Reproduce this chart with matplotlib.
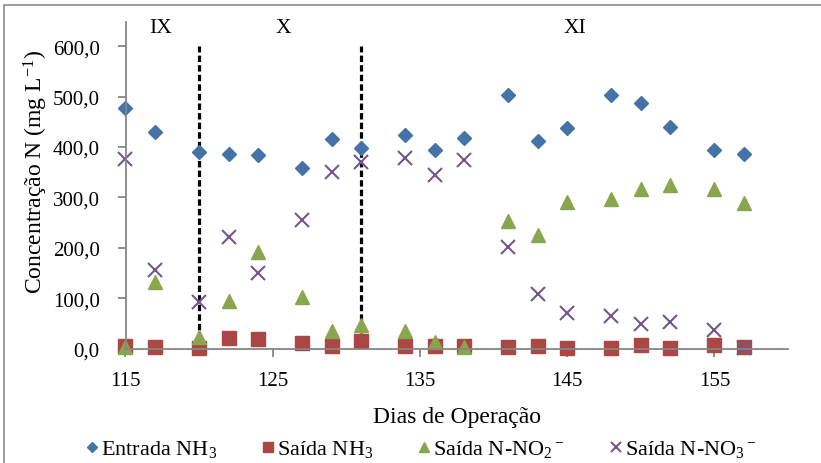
import matplotlib
matplotlib.use("Agg")
import matplotlib.pyplot as plt
from matplotlib.patches import Rectangle

plt.rcParams['font.family'] = ['Liberation Serif', 'DejaVu Serif']
plt.rcParams['mathtext.fontset'] = 'custom'
plt.rcParams['mathtext.rm'] = 'Liberation Serif'
plt.rcParams['mathtext.it'] = 'Liberation Serif:italic'
plt.rcParams['mathtext.bf'] = 'Liberation Serif:bold'

# Operation days and nitrogen concentrations (mg N/L)
dias = [115, 117, 120, 122, 124, 127, 129, 131, 134, 136, 138,
        141, 143, 145, 148, 150, 152, 155, 157]
entrada_nh3 = [477, 429, 389, 386, 384, 359, 415, 397, 423, 393, 418,
               503, 412, 437, 504, 488, 439, 394, 387]
saida_nh3 = [5, 3, 1, 20, 18, 11, 4, 14, 4, 5, 5,
             2, 5, 1, 0.5, 7, 0.5, 6, 2]
saida_no2 = [2, 132, 23, 94, 191, 103, 34, 46, 34, 13, 3,
             253, 225, 291, 296, 317, 324, 316, 288]
saida_no3 = [377, 156, 92, 222, 150, 256, 350, 370, 378, 345, 374,
             201, 108, 70, 64, 49, 52, 36, 1]

series_labels = ['Entrada NH$_3$', 'Saída NH$_3$',
                 'Saída N-NO$_2$$\\,^{-}$', 'Saída N-NO$_3$$\\,^{-}$']

# Phase boundaries and phase names
fase_limites = [120, 131]
fase_nomes = ['IX', 'X', 'XI']
fase_pos = [117.4, 125.7, 145.5]

x_ticks = [115, 125, 135, 145, 155]
y_ticks = [0, 100, 200, 300, 400, 500, 600]

W, H = 821, 464
fig = plt.figure(figsize=(W / 100, H / 100), dpi=100)
ax = fig.add_axes([125.5 / W, 1 - 349.5 / H, (788 - 125.5) / W, (349.5 - 23) / H])

ax.plot(dias, entrada_nh3, linestyle='none', marker='D', ms=7,
        color='#4572A7', label=series_labels[0], clip_on=False)
ax.plot(dias, saida_nh3, linestyle='none', marker='s', ms=10.5,
        color='#AA4643', label=series_labels[1], clip_on=False)
ax.plot(dias, saida_no2, linestyle='none', marker='^', ms=10.5,
        color='#89A54E', label=series_labels[2], clip_on=False)
ax.plot(dias, saida_no3, linestyle='none', marker='x', ms=9.5, mew=1.5,
        color='#71588F', label=series_labels[3], clip_on=False)

for xb in fase_limites:
    ax.plot([xb, xb], [0, 600], color='black', lw=2.3,
            linestyle=(0, (2, 1)), zorder=1.5)

for nome, xp in zip(fase_nomes, fase_pos):
    ax.text(xp, 638, nome, fontsize=15.5, ha='center', va='center')

ax.set_xlim(115, 160)
ax.set_ylim(0, 648)
ax.set_xticks(x_ticks)
ax.set_yticks(y_ticks)
ax.set_yticklabels([f'{v:.1f}'.replace('.', ',') for v in y_ticks])

gray = '#868686'
for s in ['top', 'right']:
    ax.spines[s].set_visible(False)
for s in ['left', 'bottom']:
    ax.spines[s].set_color(gray)
    ax.spines[s].set_linewidth(1.3)
ax.tick_params(axis='both', colors=gray, labelcolor='black', labelsize=15,
               length=5.5, width=1.3, direction='out')
ax.tick_params(axis='x', pad=10.5)
ax.tick_params(axis='y', pad=13)

ax.set_xlabel('Dias de Operação', fontsize=17)
ax.xaxis.set_label_coords(0.5, -(423 - 349.5) / 326.5)
ax.xaxis.label.set_va('baseline')
ax.set_ylabel('Concentração N (mg L$^{-1}$)', fontsize=17)
ax.yaxis.set_label_coords(-0.1135, (349.5 - 172) / 326.5)

fig.legend(loc='center', bbox_to_anchor=(0.513, 1 - 450 / H), ncol=4,
           frameon=False, fontsize=16, handlelength=0.6, handletextpad=0.1,
           columnspacing=2.0, markerscale=0.75)

# Outer chart frame
fig.patches.append(Rectangle((4 / W, -0.1), 1.0, (H - 6) / H + 0.1,
                             transform=fig.transFigure, fill=False,
                             edgecolor='#8c8c8c', lw=1.2))

fig.savefig('out.png', dpi=100)
